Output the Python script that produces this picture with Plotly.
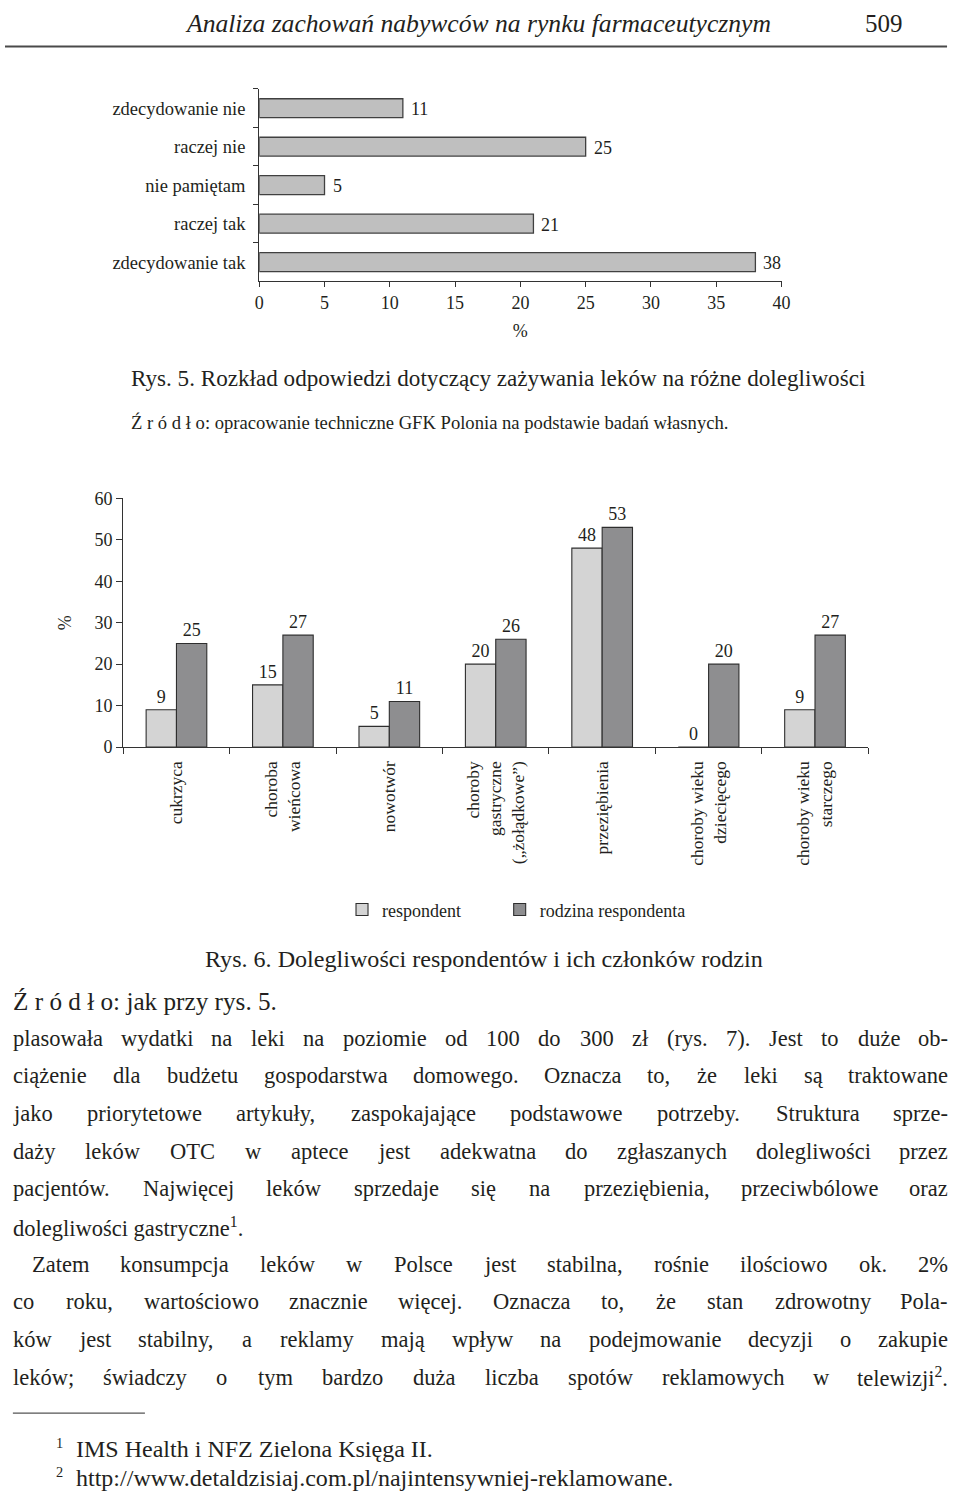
import re
import plotly.graph_objects as go

# ---------------- data ----------------
answers = ["zdecydowanie nie", "raczej nie", "nie pamiętam", "raczej tak", "zdecydowanie tak"]
answer_pct = [11, 25, 5, 21, 38]
x1_ticks = [0, 5, 10, 15, 20, 25, 30, 35, 40]

ailments = ["cukrzyca", "choroba<br>wieńcowa", "nowotwór",
            "choroby<br>gastryczne<br>(„żołądkowe”)", "przeziębienia",
            "choroby wieku<br>dziecięcego", "choroby wieku<br>starczego"]
respondent = [9, 15, 5, 20, 48, 0, 9]
family = [25, 27, 11, 26, 53, 20, 27]
y2_ticks = [0, 10, 20, 30, 40, 50, 60]
series_names = ["respondent", "rodzina respondenta"]

header_title = "Analiza zachowań nabywców na rynku farmaceutycznym"
page_no = "509"
caption5 = "Rys. 5. Rozkład odpowiedzi dotyczący zażywania leków na różne dolegliwości"
source5 = "Ź r ó d ł o: opracowanie techniczne GFK Polonia na podstawie badań własnych."
caption6 = "Rys. 6. Dolegliwości respondentów i ich członków rodzin"
source6 = "Ź r ó d ł o: jak przy rys. 5."
body_lines = [
    "plasowała wydatki na leki na poziomie od 100 do 300 zł (rys. 7). Jest to duże ob-",
    "ciążenie dla budżetu gospodarstwa domowego. Oznacza to, że leki są traktowane",
    "jako priorytetowe artykuły, zaspokajające podstawowe potrzeby. Struktura sprze-",
    "daży leków OTC w aptece jest adekwatna do zgłaszanych dolegliwości przez",
    "pacjentów. Najwięcej leków sprzedaje się na przeziębienia, przeciwbólowe oraz",
    "dolegliwości gastryczne<sup>1</sup>.",
    "Zatem konsumpcja leków w Polsce jest stabilna, rośnie ilościowo ok. 2%",
    "co roku, wartościowo znacznie więcej. Oznacza to, że stan zdrowotny Pola-",
    "ków jest stabilny, a reklamy mają wpływ na podejmowanie decyzji o zakupie",
    "leków; świadczy o tym bardzo duża liczba spotów reklamowych w telewizji<sup>2</sup>.",
]
body_justified = [True, True, True, True, True, False, True, True, True, True]
body_indent = [0, 0, 0, 0, 0, 0, 1, 0, 0, 0]
footnote_marks = ["1", "2"]
footnotes = ["IMS Health i NFZ Zielona Księga II.",
             "http://www.detaldzisiaj.com.pl/najintensywniej-reklamowane."]

# ---------------- helpers ----------------
FIG_W, FIG_H = 960, 1503
FONT = "Liberation Serif"
INK = "#231f20"
AX = "#333333"


def px(x):
    return x / FIG_W


def py(y):
    return 1 - y / FIG_H


TIMES = {}
TIMES.update(dict(a=444, b=500, c=444, d=500, e=444, f=333, g=500, h=500, i=278, j=278, k=500,
                  l=278, m=778, n=500, o=500, p=500, q=500, r=333, s=389, t=278, u=500, v=500,
                  w=722, x=500, y=500, z=444))
TIMES.update(dict(A=722, B=667, C=667, D=722, E=611, F=556, G=722, H=722, I=333, J=389, K=722,
                  L=611, M=889, N=722, O=722, P=556, Q=722, R=667, S=556, T=611, U=722, V=722,
                  W=944, X=722, Y=722, Z=611))
for ch in "0123456789":
    TIMES[ch] = 500
TIMES.update({" ": 250, ".": 250, ",": 250, ":": 278, ";": 278, "-": 333, "(": 333, ")": 333,
              "%": 833, "/": 278, "„": 444, "”": 444})
ACC = {"ą": "a", "ć": "c", "ę": "e", "ł": "l", "ń": "n", "ó": "o", "ś": "s", "ź": "z", "ż": "z",
       "Ą": "A", "Ć": "C", "Ę": "E", "Ł": "L", "Ń": "N", "Ó": "O", "Ś": "S", "Ź": "Z", "Ż": "Z"}


def cw(c):
    return TIMES.get(ACC.get(c, c), 500)


def em(s):
    total = 0.0
    for part in re.split(r"(<sup>.*?</sup>)", s):
        if part.startswith("<sup>"):
            total += 0.6 * sum(cw(c) for c in part[5:-6])
        else:
            part = re.sub(r"</?i>", "", part)
            total += sum(cw(c) for c in part)
    return total / 1000.0


annotations = []


def add_text(text, x, y, size, anchor="left", color=INK):
    annotations.append(dict(text=text, x=px(x), y=py(y), xref="paper", yref="paper",
                            xanchor=anchor, yanchor="middle", showarrow=False, borderpad=0,
                            borderwidth=0, font=dict(family=FONT, size=size, color=color)))


def fit(text, width):
    return width / em(text)


def justify(line, y, left, right, size):
    words = line.split(" ")
    widths = [em(w) * size for w in words]
    gap = (right - left - sum(widths)) / (len(words) - 1)
    x = left
    for i, (w, wd) in enumerate(zip(words, widths)):
        if i == len(words) - 1:
            add_text(w, right, y, size, anchor="right")
        else:
            add_text(w, x, y, size)
        x += wd + gap


fig = go.Figure()

# ---------------- chart 1 ----------------
fig.add_trace(go.Bar(
    x=answer_pct, y=answers, orientation="h", width=0.49, showlegend=False,
    marker=dict(color="#bfbfbf", line=dict(color="#404040", width=1.3)),
    xaxis="x", yaxis="y", hoverinfo="skip"))
for v, c in zip(answer_pct, answers):
    annotations.append(dict(x=v, y=c, xref="x", yref="y", text=str(v), xanchor="left",
                            yanchor="middle", xshift=6, yshift=-1, showarrow=False,
                            font=dict(family=FONT, size=18, color=INK)))

# ---------------- chart 2 ----------------
fig.add_trace(go.Bar(
    x=ailments, y=respondent, name=series_names[0], xaxis="x2", yaxis="y2", legend="legend",
    marker=dict(color="#d4d4d4", line=dict(color="#2e2e2e", width=1.1)),
    text=respondent, textposition="outside", constraintext="none", cliponaxis=False,
    textfont=dict(family=FONT, size=18, color=INK), hoverinfo="skip"))
fig.add_trace(go.Bar(
    x=ailments, y=family, name=series_names[1], xaxis="x2", yaxis="y2", legend="legend2",
    marker=dict(color="#8e8e90", line=dict(color="#2e2e2e", width=1.1)),
    text=family, textposition="outside", constraintext="none", cliponaxis=False,
    textfont=dict(family=FONT, size=18, color=INK), hoverinfo="skip"))

# ---------------- page text ----------------
hdr_size = 551 / (em(header_title) * 0.93)
add_text("<i>" + header_title + "</i>", 480.5, 14, hdr_size, anchor="center")
add_text(page_no, 911, 14, 25, anchor="right")

add_text(caption5, 128, 373, fit(caption5, 736))
add_text(source5, 128, 418, fit(source5, 598))
add_text(caption6, 203, 962, fit(caption6, 559))
add_text(source6, 8, 1005, fit(source6, 264))

BODY = 22.5
RIGHT = 957
y0, pitch = 1042, 38.2
for i, (line, just, ind) in enumerate(zip(body_lines, body_justified, body_indent)):
    y = y0 + i * pitch
    left = 8 + ind * 19
    if just:
        justify(line, y, left, RIGHT, BODY)
    else:
        add_text(line, left, y, BODY)

fn_size = (fit(footnotes[0], 358) + fit(footnotes[1], 598)) / 2
for k, (m, t) in enumerate(zip(footnote_marks, footnotes)):
    yy = 1458 + k * 30
    add_text(m, 52, yy - 6, fn_size * 0.6)
    add_text(t, 72, yy, fn_size)

shapes = [
    dict(type="line", xref="paper", yref="paper", x0=0, x1=px(956), y0=py(37), y1=py(37),
         line=dict(color="#4a4a4a", width=2)),
    dict(type="line", xref="paper", yref="paper", x0=px(8), x1=px(142), y0=py(1422), y1=py(1422),
         line=dict(color="#555555", width=1.2)),
]

tickfont = dict(family=FONT, size=18, color=INK)
legend_common = dict(orientation="h", xanchor="left", y=py(912), yanchor="middle",
                     font=dict(family=FONT, size=18, color=INK), bgcolor="rgba(0,0,0,0)")
fig.update_layout(
    width=FIG_W, height=FIG_H, margin=dict(l=0, r=0, t=0, b=0),
    paper_bgcolor="white", plot_bgcolor="white",
    font=dict(family=FONT, color=INK),
    barmode="group", bargap=0.43, bargroupgap=0,
    annotations=annotations, shapes=shapes,
    xaxis=dict(domain=[px(258), px(788)], anchor="y", range=[0, 40], tickvals=x1_ticks,
               ticks="outside", ticklen=5, tickcolor=AX, showline=True, linecolor=AX,
               linewidth=1.2, showgrid=False, zeroline=False, tickfont=tickfont,
               title=dict(text="%", font=dict(family=FONT, size=18, color=INK), standoff=12)),
    yaxis=dict(domain=[py(275), py(80)], anchor="x", type="category", categoryorder="array",
               categoryarray=answers, autorange="reversed", ticks="outside", tickson="boundaries",
               ticklen=5, tickcolor=AX, showline=True, linecolor=AX, linewidth=1.2,
               showgrid=False, zeroline=False, tickfont=dict(family=FONT, size=18.5, color=INK),
               ticklabelstandoff=9),
    xaxis2=dict(domain=[px(120), px(876)], anchor="y2", type="category", ticks="outside",
                tickson="boundaries", ticklen=6, tickcolor=AX, showline=True, linecolor=AX,
                linewidth=1.2, showgrid=False, tickangle=-90, ticklabelstandoff=6,
                tickfont=dict(family=FONT, size=17.5, color=INK)),
    yaxis2=dict(domain=[py(747), py(495)], anchor="x2", range=[0, 60], tickvals=y2_ticks,
                ticks="outside", ticklen=6, tickcolor=AX, showline=True, linecolor=AX,
                linewidth=1.2, showgrid=False, zeroline=False, tickfont=tickfont,
                title=dict(text="%", font=dict(family=FONT, size=18, color=INK), standoff=18)),
    legend=dict(x=px(342), **legend_common),
    legend2=dict(x=px(502), **legend_common),
)

fig.write_html("out.html", config={"displayModeBar": False},
               post_script="document.body.style.margin='0px';"
                           "document.body.style.overflow='hidden';")
